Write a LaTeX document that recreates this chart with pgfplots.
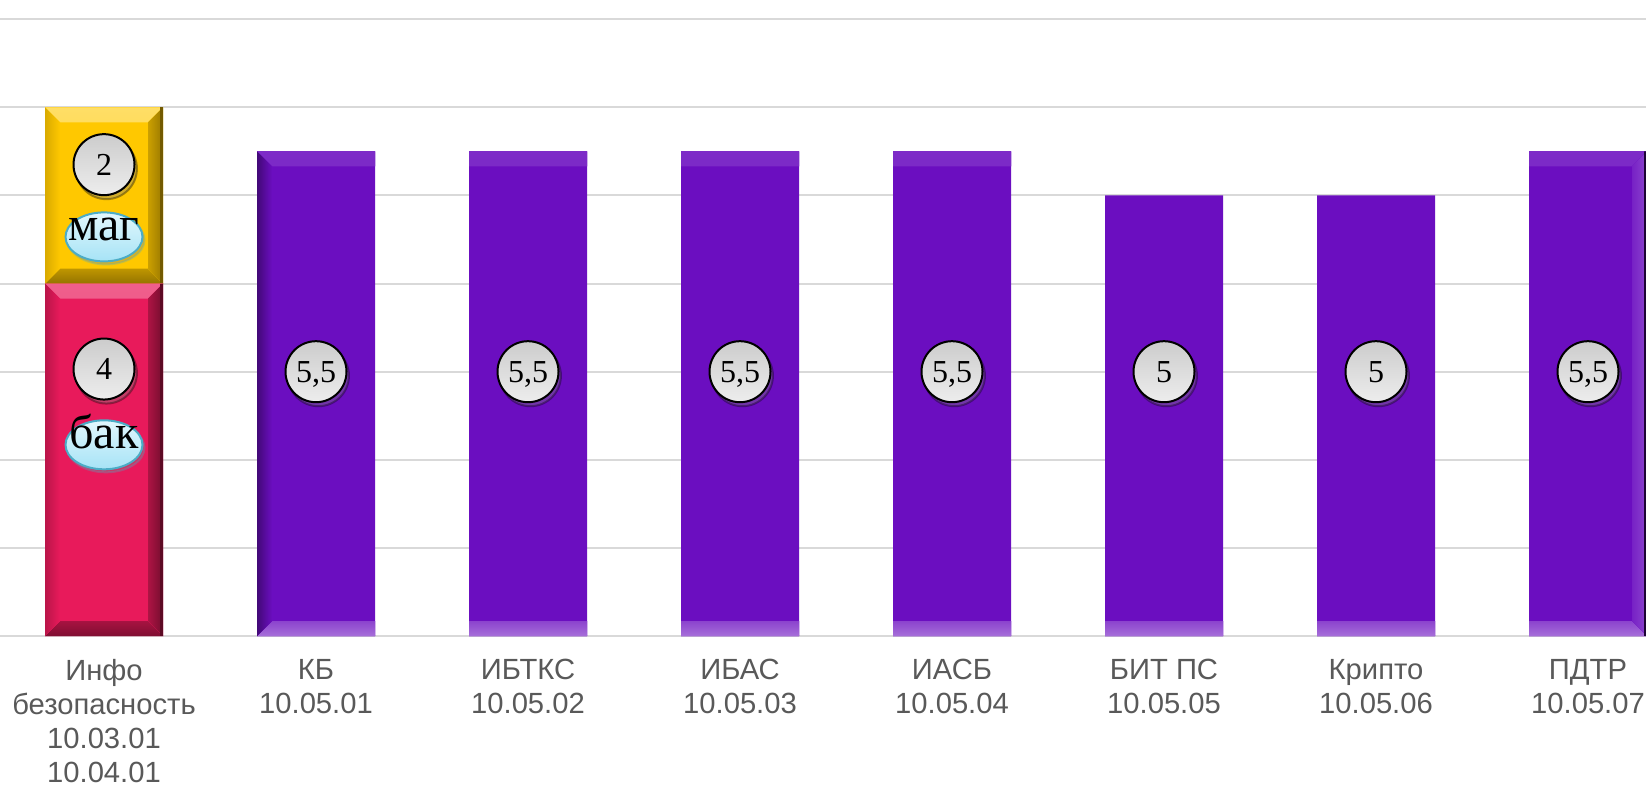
\documentclass[border=0pt]{standalone}
\usepackage{pgfplots}
\pgfplotsset{compat=1.18}
\usepackage{pgfplotstable}
\usepackage{fontspec}
\setmainfont{Liberation Serif}
\newfontfamily\arialf{Liberation Sans}
\usetikzlibrary{shapes.geometric,shadows}

\definecolor{gridc}{HTML}{D9D9D9}
\definecolor{labc}{HTML}{595959}
\definecolor{pm}{HTML}{6B0EC0}
\definecolor{rm}{HTML}{E81A5B}
\definecolor{ym}{HTML}{FFC800}
\definecolor{ellb}{HTML}{4BACC6}
\definecolor{ellt}{HTML}{E2F7FD}
\definecolor{ellbot}{HTML}{A6E3F6}

\def\bv{7.5bp}
\def\NW{path picture bounding box.north west}
\def\NE{path picture bounding box.north east}
\def\SW{path picture bounding box.south west}
\def\SE{path picture bounding box.south east}
\tikzset{
  bevel/.style n args={5}{path picture={
    \fill[path picture={},#1] (\NW) -- (\NE) -- ([shift={(-\bv,-\bv)}]\NE) -- ([shift={(\bv,-\bv)}]\NW) -- cycle;
    \fill[path picture={},#2] (\SW) -- (\SE) -- ([shift={(-\bv,\bv)}]\SE) -- ([shift={(\bv,\bv)}]\SW) -- cycle;
    \fill[path picture={},#3] (\NW) -- ([shift={(\bv,-\bv)}]\NW) -- ([shift={(\bv,\bv)}]\SW) -- (\SW) -- cycle;
    \fill[path picture={},#4] (\NE) -- ([shift={(-\bv,-\bv)}]\NE) -- ([shift={(-\bv,\bv)}]\SE) -- (\SE) -- cycle;
    \draw[path picture={},#5, line width=1.4bp] ([xshift=-0.7bp]\NE) -- ([xshift=-0.7bp]\SE);
  }},
  circ/.style={circle, draw=black, line width=1bp, minimum size=30.5bp, inner sep=0pt,
    top color=black!20, bottom color=black!7,
    drop shadow={opacity=0.35, shadow xshift=1.2bp, shadow yshift=-2bp},
    font=\fontsize{16bp}{16bp}\selectfont, text=black, anchor=center},
  ell/.style={ellipse, draw=ellb, line width=1bp, minimum width=38.5bp, minimum height=24.5bp, inner sep=0pt,
    top color=ellt, bottom color=ellbot,
    drop shadow={opacity=0.3, shadow xshift=1bp, shadow yshift=-1.5bp},
    font=\fontsize{24bp}{24bp}\selectfont, text=black, anchor=center},
}

\pgfplotstableread{
x red purple yellow
0 4 0 2
1 0 5.5 0
2 0 5.5 0
3 0 5.5 0
4 0 5.5 0
5 0 5 0
6 0 5 0
7 0 5.5 0
}\bars

\pgfplotstableread{
x y lab
0 3.03 4
0 5.35 2
1 3 5,5
2 3 5,5
3 3 5,5
4 3 5,5
5 3 5
6 3 5
7 3 5,5
}\nums

\pgfplotstableread{
x y lab
0 4.53 маг
0 2.17 бак
}\words

\begin{document}
\begin{tikzpicture}
\useasboundingbox (0,-75bp) rectangle (823bp,318bp);
\begin{axis}[
  at={(0,0)}, anchor=south west,
  scale only axis, width=823bp, height=318bp,
  xmin=-0.4906, xmax=7.2736, ymin=0, ymax=7.219,
  ybar stacked, bar width=59bp,
  ytick={0,...,7}, yticklabels={}, ymajorgrids,
  grid style={draw=gridc, line width=1bp},
  xtick={0,...,7},
  xticklabels={{Инфо\\безопасность\\10.03.01\\10.04.01},{КБ\\10.05.01},{ИБТКС\\10.05.02},{ИБАС\\10.05.03},{ИАСБ\\10.05.04},{БИТ ПС\\10.05.05},{Крипто\\10.05.06},{ПДТР\\10.05.07}},
  xticklabel style={align=center, font=\arialf\fontsize{14.6bp}{16.9bp}\selectfont, text=labc, anchor=north, inner sep=0pt, yshift=-11.6bp},
  axis line style={draw=none}, major tick length=0pt,
  clip=true,
]
\addplot[fill=rm, draw=none, bevel={top color=rm!70!white, bottom color=rm!92!white}{top color=rm!72!black, bottom color=rm!55!black}{left color=rm!80!black, right color=rm}{left color=rm!75!black, right color=rm!50!black}{rm!40!black}] table[x=x,y=red]{\bars};
\addplot[fill=pm, draw=none, bevel={top color=pm!88!white, bottom color=pm!95!black}{top color=pm!78!white, bottom color=pm!60!white}{left color=pm!62!black, right color=pm}{left color=pm!92!white, right color=pm!78!white}{pm!28!black}] table[x=x,y=purple]{\bars};
\addplot[fill=ym, draw=none, bevel={top color=ym!60!white, bottom color=ym!95!white}{top color=ym!75!black, bottom color=ym!58!black}{left color=ym!85!black, right color=ym}{left color=ym!80!black, right color=ym!60!black}{ym!45!black}] table[x=x,y=yellow]{\bars};
\end{axis}
\begin{axis}[
  at={(0,0)}, anchor=south west,
  scale only axis, width=823bp, height=318bp,
  xmin=-0.4906, xmax=7.2736, ymin=0, ymax=7.219,
  hide axis, clip=false,
]
\addplot[only marks, mark=none, point meta=explicit symbolic,
  nodes near coords={\raisebox{0pt}[\height][0pt]{\pgfplotspointmeta}},
  every node near coord/.append style={circ}] table[x=x,y=y,meta=lab]{\nums};
\addplot[only marks, mark=none, point meta=explicit symbolic,
  nodes near coords={\raisebox{-3.9bp}{\smash{\makebox[0pt]{\pgfplotspointmeta}}}},
  every node near coord/.append style={ell}] table[x=x,y=y,meta=lab]{\words};
\end{axis}
\end{tikzpicture}
\end{document}
